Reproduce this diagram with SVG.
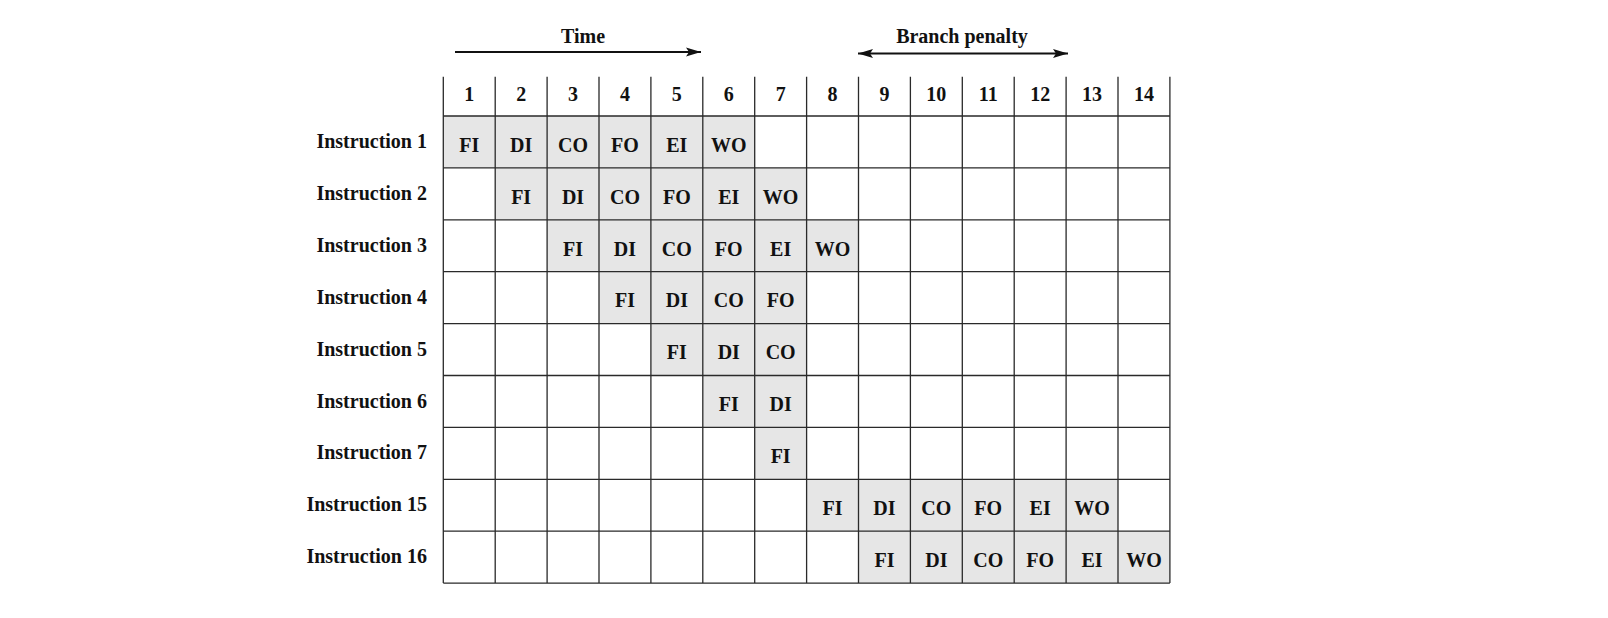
<svg xmlns="http://www.w3.org/2000/svg" width="1608" height="618" viewBox="0 0 1608 618">
<defs>
<style>
text{font-family:"Liberation Serif","Times New Roman",serif;font-weight:bold;font-size:20px;fill:#111}
.c{text-anchor:middle}
.l{text-anchor:end}
.sh{fill:#e6e6e6;stroke:none}
.g{stroke:#2a2a2a;stroke-width:1.3;fill:none}
.ar{stroke:#111;stroke-width:2;fill:none}
</style>
<marker id="ah" markerUnits="userSpaceOnUse" markerWidth="16" markerHeight="10" refX="15" refY="5" orient="auto-start-reverse">
<path d="M0,0.5 L15,5 L0,9.5 L3,5 z" fill="#111"/>
</marker>
</defs>
<rect width="1608" height="618" fill="#fff"/>

<g id="time">
<line class="ar" x1="455" y1="52" x2="701" y2="52" marker-end="url(#ah)"/>
<text class="c" x="583" y="42.5">Time</text>
</g>
<g id="branch-penalty">
<line class="ar" x1="858" y1="53.5" x2="1068" y2="53.5" marker-start="url(#ah)" marker-end="url(#ah)"/>
<text class="c" x="962" y="43">Branch penalty</text>
</g>

<g id="shading">
<rect class="sh" x="443.3" y="116" width="311.4" height="51.9"/>
<rect class="sh" x="495.2" y="167.9" width="311.4" height="51.9"/>
<rect class="sh" x="547.1" y="219.8" width="311.4" height="51.9"/>
<rect class="sh" x="599.0" y="271.7" width="207.6" height="51.9"/>
<rect class="sh" x="650.9" y="323.6" width="155.7" height="51.9"/>
<rect class="sh" x="702.8" y="375.5" width="103.8" height="51.9"/>
<rect class="sh" x="754.7" y="427.4" width="51.9" height="51.9"/>
<rect class="sh" x="806.6" y="479.3" width="311.4" height="51.9"/>
<rect class="sh" x="858.5" y="531.2" width="311.4" height="51.9"/>
</g>

<g id="grid" class="g">
<path d="M443.3,76.7V583.1 M495.2,76.7V583.1 M547.1,76.7V583.1 M599,76.7V583.1 M650.9,76.7V583.1 M702.8,76.7V583.1 M754.7,76.7V583.1 M806.6,76.7V583.1 M858.5,76.7V583.1 M910.4,76.7V583.1 M962.3,76.7V583.1 M1014.2,76.7V583.1 M1066.1,76.7V583.1 M1118,76.7V583.1 M1169.9,76.7V583.1"/>
<path d="M443.3,116H1169.9 M443.3,167.9H1169.9 M443.3,219.8H1169.9 M443.3,271.7H1169.9 M443.3,323.6H1169.9 M443.3,375.5H1169.9 M443.3,427.4H1169.9 M443.3,479.3H1169.9 M443.3,531.2H1169.9 M443.3,583.1H1169.9"/>
</g>

<g id="header">
<text class="c" x="469.25" y="101">1</text>
<text class="c" x="521.15" y="101">2</text>
<text class="c" x="573.05" y="101">3</text>
<text class="c" x="624.95" y="101">4</text>
<text class="c" x="676.85" y="101">5</text>
<text class="c" x="728.75" y="101">6</text>
<text class="c" x="780.65" y="101">7</text>
<text class="c" x="832.55" y="101">8</text>
<text class="c" x="884.45" y="101">9</text>
<text class="c" x="936.35" y="101">10</text>
<text class="c" x="988.25" y="101">11</text>
<text class="c" x="1040.15" y="101">12</text>
<text class="c" x="1092.05" y="101">13</text>
<text class="c" x="1143.95" y="101">14</text>
</g>

<g id="labels">
<text class="l" x="427" y="148">Instruction 1</text>
<text class="l" x="427" y="199.9">Instruction 2</text>
<text class="l" x="427" y="251.8">Instruction 3</text>
<text class="l" x="427" y="303.7">Instruction 4</text>
<text class="l" x="427" y="355.6">Instruction 5</text>
<text class="l" x="427" y="407.5">Instruction 6</text>
<text class="l" x="427" y="459.4">Instruction 7</text>
<text class="l" x="427" y="511.3">Instruction 15</text>
<text class="l" x="427" y="563.2">Instruction 16</text>
</g>

<g id="instr1">
<text class="c" x="469.25" y="151.7">FI</text>
<text class="c" x="521.15" y="151.7">DI</text>
<text class="c" x="573.05" y="151.7">CO</text>
<text class="c" x="624.95" y="151.7">FO</text>
<text class="c" x="676.85" y="151.7">EI</text>
<text class="c" x="728.75" y="151.7">WO</text>
</g>
<g id="instr2">
<text class="c" x="521.15" y="203.6">FI</text>
<text class="c" x="573.05" y="203.6">DI</text>
<text class="c" x="624.95" y="203.6">CO</text>
<text class="c" x="676.85" y="203.6">FO</text>
<text class="c" x="728.75" y="203.6">EI</text>
<text class="c" x="780.65" y="203.6">WO</text>
</g>
<g id="instr3">
<text class="c" x="573.05" y="255.5">FI</text>
<text class="c" x="624.95" y="255.5">DI</text>
<text class="c" x="676.85" y="255.5">CO</text>
<text class="c" x="728.75" y="255.5">FO</text>
<text class="c" x="780.65" y="255.5">EI</text>
<text class="c" x="832.55" y="255.5">WO</text>
</g>
<g id="instr4">
<text class="c" x="624.95" y="307.4">FI</text>
<text class="c" x="676.85" y="307.4">DI</text>
<text class="c" x="728.75" y="307.4">CO</text>
<text class="c" x="780.65" y="307.4">FO</text>
</g>
<g id="instr5">
<text class="c" x="676.85" y="359.3">FI</text>
<text class="c" x="728.75" y="359.3">DI</text>
<text class="c" x="780.65" y="359.3">CO</text>
</g>
<g id="instr6">
<text class="c" x="728.75" y="411.2">FI</text>
<text class="c" x="780.65" y="411.2">DI</text>
</g>
<g id="instr7">
<text class="c" x="780.65" y="463.1">FI</text>
</g>
<g id="instr15">
<text class="c" x="832.55" y="515">FI</text>
<text class="c" x="884.45" y="515">DI</text>
<text class="c" x="936.35" y="515">CO</text>
<text class="c" x="988.25" y="515">FO</text>
<text class="c" x="1040.15" y="515">EI</text>
<text class="c" x="1092.05" y="515">WO</text>
</g>
<g id="instr16">
<text class="c" x="884.45" y="566.9">FI</text>
<text class="c" x="936.35" y="566.9">DI</text>
<text class="c" x="988.25" y="566.9">CO</text>
<text class="c" x="1040.15" y="566.9">FO</text>
<text class="c" x="1092.05" y="566.9">EI</text>
<text class="c" x="1143.95" y="566.9">WO</text>
</g>
</svg>
